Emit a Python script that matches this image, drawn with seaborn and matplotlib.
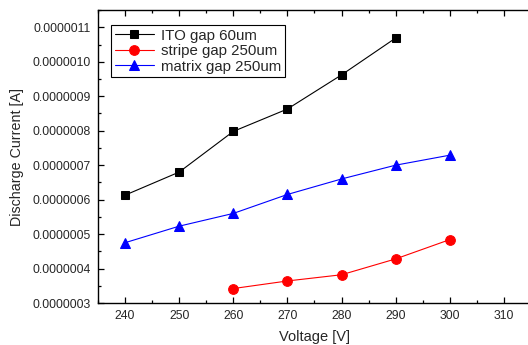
import numpy as np
import pandas as pd
import seaborn as sns
import matplotlib.pyplot as plt
from matplotlib.ticker import MultipleLocator, FormatStrFormatter

# values
ito_v = [240, 250, 260, 270, 280, 290]
ito_i = [6.13e-7, 6.80e-7, 7.98e-7, 8.63e-7, 9.62e-7, 1.069e-6]

stripe_v = [260, 270, 280, 290, 300]
stripe_i = [3.42e-7, 3.64e-7, 3.82e-7, 4.28e-7, 4.84e-7]

matrix_v = [240, 250, 260, 270, 280, 290, 300]
matrix_i = [4.75e-7, 5.23e-7, 5.60e-7, 6.15e-7, 6.60e-7, 7.00e-7, 7.29e-7]

sns.set_style("ticks")
plt.rcParams['font.family'] = ['Liberation Sans', 'DejaVu Sans']

fig = plt.figure(figsize=(5.28, 3.45), dpi=100)
ax = fig.add_axes([0.1856, 0.1217, 0.82, 0.849])

sns.lineplot(x=ito_v, y=ito_i, ax=ax, color='black', marker='s', markersize=6,
             markeredgecolor='black', linewidth=0.8, label='ITO gap 60um')
sns.lineplot(x=stripe_v, y=stripe_i, ax=ax, color='red', marker='o', markersize=7,
             markeredgecolor='red', linewidth=0.8, label='stripe gap 250um')
sns.lineplot(x=matrix_v, y=matrix_i, ax=ax, color='blue', marker='^', markersize=7.5,
             markeredgecolor='blue', linewidth=0.8, label='matrix gap 250um')

ax.set_xlim(235, 315)
ax.set_ylim(3e-7, 1.15e-6)
ax.xaxis.set_major_locator(MultipleLocator(10))
ax.xaxis.set_minor_locator(MultipleLocator(5))
ax.yaxis.set_major_locator(MultipleLocator(1e-7))
ax.yaxis.set_minor_locator(MultipleLocator(5e-8))
ax.yaxis.set_major_formatter(FormatStrFormatter('%.7f'))

ax.tick_params(which='both', direction='in', top=True, right=False, labelsize=8.8, color='black')
ax.tick_params(which='major', length=4, width=0.9, pad=5)
ax.tick_params(which='minor', length=2.5, width=0.9)
for s in ax.spines.values():
    s.set_linewidth(1.0)
    s.set_color('black')

ax.set_xlabel('Voltage [V]', fontsize=10.5, labelpad=6)
ax.set_ylabel('Discharge Current [A]', fontsize=10.3, labelpad=6)

leg = ax.legend(loc='upper left', bbox_to_anchor=(0.03, 0.95), fontsize=10.8,
                frameon=True, fancybox=False, framealpha=1, edgecolor='black',
                handlelength=2.6, borderpad=0.25, labelspacing=0.1, handletextpad=0.5,
                borderaxespad=0)
leg.get_frame().set_linewidth(0.8)

fig.savefig('out.png', dpi=100)
